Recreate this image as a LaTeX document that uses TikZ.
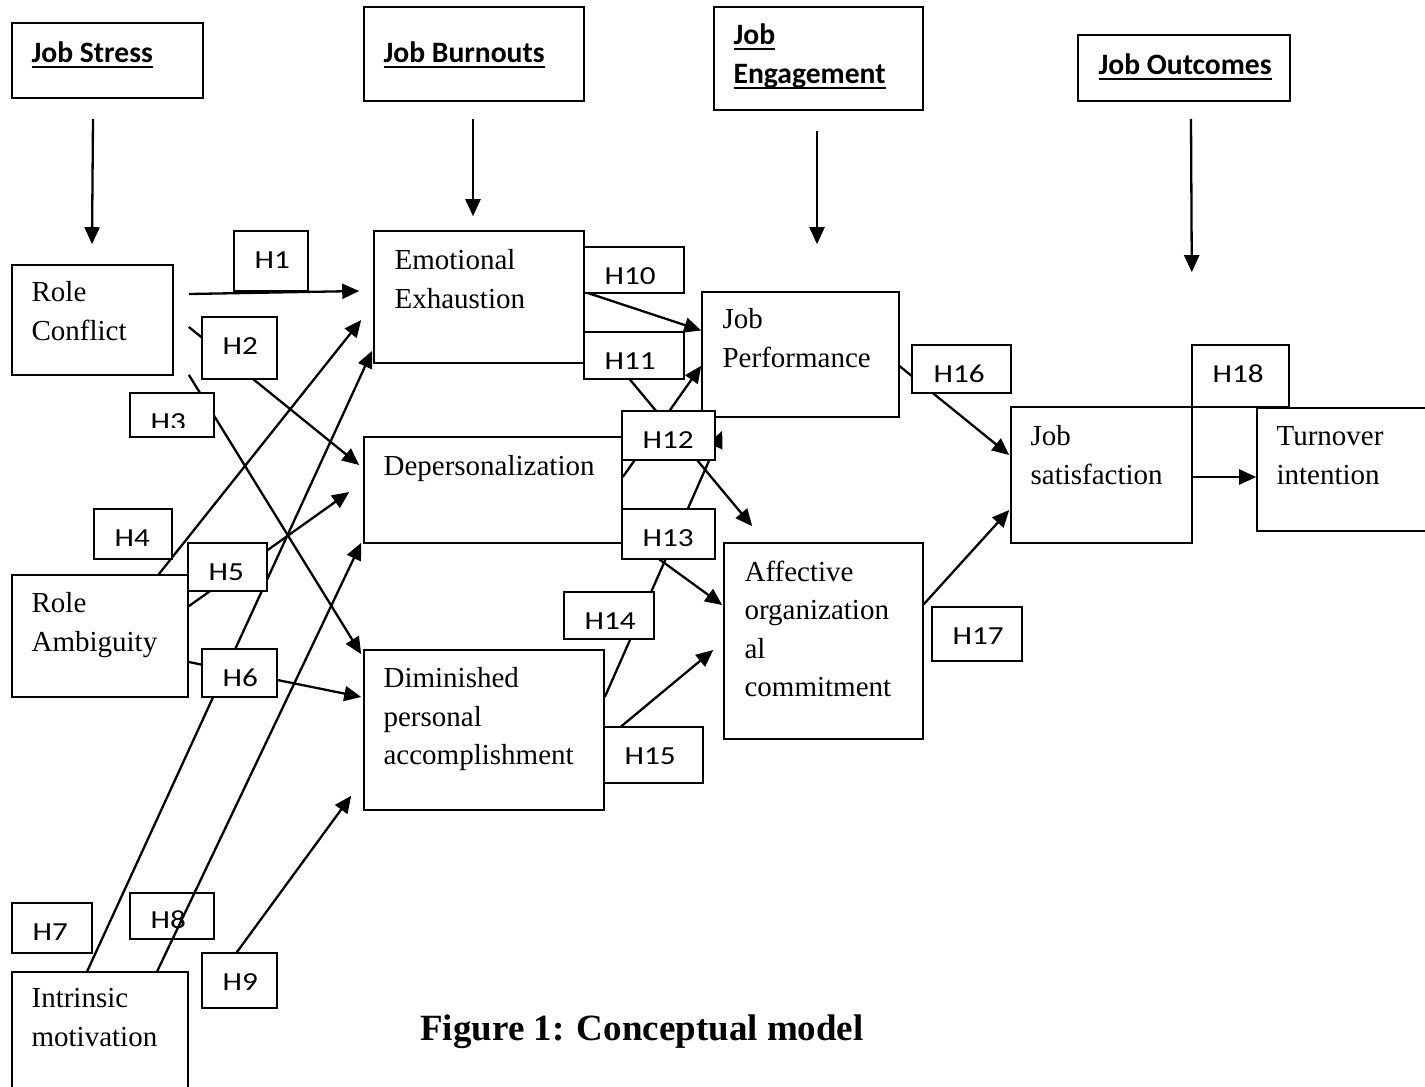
\documentclass[tikz,border=0pt]{standalone}
\usepackage{fontspec}
\setmainfont{Liberation Serif}
\newfontfamily\hfont[FakeStretch=1.2]{Carlito}
\newfontfamily\headfont{Carlito}
\newsavebox\headbox
\newcommand{\headul}[1]{\sbox\headbox{#1}\rlap{\rule[-2.6pt]{\wd\headbox}{0.9pt}}\usebox\headbox}
\usetikzlibrary{arrows.meta,fit,calc}

\begin{document}
\begin{tikzpicture}[
    x=0.5pt, y=-0.5pt,
    >={Triangle[length=8.5pt,width=7.5pt]},
    blk/.style={draw, line width=0.8pt, inner sep=0pt},
    hbox/.style={blk, fill=white},
    btxt/.style={anchor=north west, inner sep=0pt, align=left,
      font=\fontsize{14.5}{19.3}\selectfont},
    head/.style={anchor=north west, inner sep=0pt, align=left,
      font=\headfont\bfseries\fontsize{14.8}{19.5}\selectfont},
    htxt/.style={anchor=base west, inner sep=0pt,
      font=\hfont\fontsize{13}{15}\selectfont},
    link/.style={->, line width=1.15pt},
  ]
  \useasboundingbox (0,0) rectangle (1425,1087);

  % Group headers
  \node[blk, fit={(12,23)(203,98)}] (stress) {};
  \node[head] (stress-t) at ([shift={(20,19)}]stress.north west) {\headul{Job Stress}};
  \node[blk, fit={(364,7)(584,101)}] (burn) {};
  \node[head] (burn-t) at ([shift={(20,35)}]burn.north west) {\headul{Job Burnouts}};
  \node[blk, fit={(714,7)(923,110)}] (engage) {};
  \node[head] (engage-t) at ([shift={(20,17)}]engage.north west)
    {\headul{Job}\\\headul{Engagement}};
  \node[blk, fit={(1078,35)(1290,101)}] (outcome) {};
  \node[head] (outcome-t) at ([shift={(21,19)}]outcome.north west) {\headul{Job Outcomes}};

  % Constructs
  \node[blk, fit={(12,265)(173,375)}] (rc) {};
  \node[btxt] (rc-t) at ([shift={(20,17)}]rc.north west) {Role\\Conflict};
  \node[blk, fit={(12,575)(188,697)}] (ra) {};
  \node[btxt] (ra-t) at ([shift={(20,18)}]ra.north west) {Role\\Ambiguity};
  \node[blk, fit={(12,972)(188,1095)}] (im) {};
  \node[btxt] (im-t) at ([shift={(20,17)}]im.north west) {Intrinsic\\motivation};

  \node[blk, fit={(374,231)(584,363)}] (ee) {};
  \node[btxt] (ee-t) at ([shift={(21,19)}]ee.north west) {Emotional\\Exhaustion};
  \node[blk, fit={(364,437)(622,543)}] (dp) {};
  \node[btxt] (dp-t) at ([shift={(20,19)}]dp.north west) {Depersonalization};
  \node[blk, fit={(364,650)(604,810)}] (dm) {};
  \node[btxt] (dm-t) at ([shift={(20,18)}]dm.north west)
    {Diminished\\personal\\accomplishment};

  \node[blk, fit={(702,292)(899,417)}] (jp) {};
  \node[btxt] (jp-t) at ([shift={(21,17)}]jp.north west) {Job\\Performance};
  \node[blk, fit={(724,543)(923,739)}] (ac) {};
  \node[btxt] (ac-t) at ([shift={(21,18)}]ac.north west)
    {Affective\\organization\\al\\commitment};

  \node[blk, fit={(1011,407)(1192,543)}] (js) {};
  \node[btxt] (js-t) at ([shift={(20,19)}]js.north west) {Job\\satisfaction};
  \node[blk, fit={(1257,408)(1435,531)}] (ti) {};
  \node[btxt] (ti-t) at ([shift={(20,19)}]ti.north west) {Turnover\\intention};

  % Header arrows
  \draw[link] ([shift={(-14.5,20)}]stress.south) -- ([shift={(-0.5,-20)}]rc.north);
  \draw[link] ([shift={(-1,17)}]burn.south) -- ([shift={(-6,-14)}]ee.north);
  \draw[link] ([shift={(-1.5,20)}]engage.south) -- ([shift={(16.5,-47)}]jp.north);
  \draw[link] ([shift={(7,17)}]outcome.south) -- ([shift={(-1,-134)}]js.north east);

  % Hypothesised paths
  \draw[link] ([shift={(15,-26)}]rc.east) -- ([shift={(-14,-6)}]ee.west);
  \draw[link] ([shift={(15,7)}]rc.east) -- ([shift={(-4,-25)}]dp.west);
  \draw[link] ([shift={(15,-1)}]rc.south east) -- ([shift={(-2,5)}]dm.north west);
  \draw[link] ([shift={(-30,0)}]ra.north east) -- ([shift={(-12,23)}]ee.west);
  \draw[link] ([shift={(0,32)}]ra.north east) -- ([shift={(-14,2)}]dp.west);
  \draw[link] ([shift={(0,26)}]ra.east) -- ([shift={(-2,-33)}]dm.west);
  \draw[link] ([shift={(76,0)}]im.north west) -- ([shift={(-1,-13)}]ee.south west);
  \draw[link] ([shift={(40,-8)}]im.north east) -- ([shift={(-12,-15)}]dm.south west);
  \draw[link] ([shift={(0,-5)}]ee.east) -- ([shift={(0,-24)}]jp.west);
  \draw[link] ([shift={(8,38)}]ee.east) -- ([shift={(29,-16)}]ac.north west);
  \draw[link] ([shift={(0,-13)}]dp.east) -- ([shift={(0,-52)}]jp.south west);
  \draw[link] ([shift={(0,-11)}]dp.south east) -- ([shift={(-1,-36)}]ac.west);
  \draw[link] ([shift={(0,-33)}]dm.east) -- ([shift={(21,13)}]jp.south west);
  \draw[link] ([shift={(0,10)}]dm.east) -- ([shift={(-10,9)}]ac.west);
  \draw[link] ([shift={(-1,11)}]jp.east) -- ([shift={(-1,-20)}]js.west);
  \draw[link] ([shift={(0,62)}]ac.north east) -- ([shift={(-1,35)}]js.west);
  \draw[link] ([shift={(0,2)}]js.east) -- ([shift={(0,7.5)}]ti.west);

  % Hypothesis labels
  \node[hbox, fit={(234,231)(308,291)}] (h1) {};
  \node[htxt] (h1-t) at ([shift={(21,38)}]h1.north west) {H1};
  \node[hbox, fit={(202,317)(277,379)}] (h2) {};
  \node[htxt] (h2-t) at ([shift={(21,38)}]h2.north west) {H2};
  \node[hbox, fit={(130,393)(214,437)}] (h3) {};
  \begin{scope}
    \clip (h3.north west) rectangle ([shift={(0,-10)}]h3.south east);
    \node[htxt] (h3-t) at ([shift={(21,38)}]h3.north west) {H3};
  \end{scope}
  \node[hbox, fit={(94,509)(172,559)}] (h4) {};
  \node[htxt] (h4-t) at ([shift={(21,38)}]h4.north west) {H4};
  \node[hbox, fit={(188,543)(267,591)}] (h5) {};
  \node[htxt] (h5-t) at ([shift={(21,38)}]h5.north west) {H5};
  \node[hbox, fit={(202,649)(277,697)}] (h6) {};
  \node[htxt] (h6-t) at ([shift={(21,38)}]h6.north west) {H6};
  \node[hbox, fit={(12,903)(92,953)}] (h7) {};
  \node[htxt] (h7-t) at ([shift={(21,38)}]h7.north west) {H7};
  \node[hbox, fit={(130,893)(214,939)}] (h8) {};
  \node[htxt] (h8-t) at ([shift={(21,36)}]h8.north west) {H8};
  \node[hbox, fit={(202,953)(277,1008)}] (h9) {};
  \node[htxt] (h9-t) at ([shift={(21,38)}]h9.north west) {H9};
  \node[hbox, fit={(584,247)(684,293)}] (h10) {};
  \begin{scope}
    \clip (h10.north west) rectangle ([shift={(0,-10)}]h10.south east);
    \node[htxt] (h10-t) at ([shift={(21,38)}]h10.north west) {H10};
  \end{scope}
  \node[hbox, fit={(584,332)(684,379)}] (h11) {};
  \node[htxt] (h11-t) at ([shift={(21,38)}]h11.north west) {H11};
  \node[hbox, fit={(622,411)(715,460)}] (h12) {};
  \node[htxt] (h12-t) at ([shift={(21,38)}]h12.north west) {H12};
  \node[hbox, fit={(622,509)(715,559)}] (h13) {};
  \node[htxt] (h13-t) at ([shift={(21,38)}]h13.north west) {H13};
  \node[hbox, fit={(564,592)(654,639)}] (h14) {};
  \node[htxt] (h14-t) at ([shift={(21,38)}]h14.north west) {H14};
  \node[hbox, fit={(604,727)(703,783)}] (h15) {};
  \node[htxt] (h15-t) at ([shift={(21,38)}]h15.north west) {H15};
  \node[hbox, fit={(912,345)(1011,393)}] (h16) {};
  \begin{scope}
    \clip (h16.north west) rectangle ([shift={(0,-10)}]h16.south east);
    \node[htxt] (h16-t) at ([shift={(22,38)}]h16.north west) {H16};
  \end{scope}
  \node[hbox, fit={(932,607)(1022,661)}] (h17) {};
  \node[htxt] (h17-t) at ([shift={(21,38)}]h17.north west) {H17};
  \node[hbox, fit={(1192,345)(1289,407)}] (h18) {};
  \node[htxt] (h18-t) at ([shift={(21,38)}]h18.north west) {H18};

  % H8 path runs over its label
  \draw[link] ([shift={(146,0)}]im.north west) -- ([shift={(-2,-1)}]dp.south west);

  % Caption
  \node[anchor=base, font=\bfseries\fontsize{18.5}{22}\selectfont] (caption)
    at (642,1040) {Figure 1: Conceptual model};
\end{tikzpicture}
\end{document}
